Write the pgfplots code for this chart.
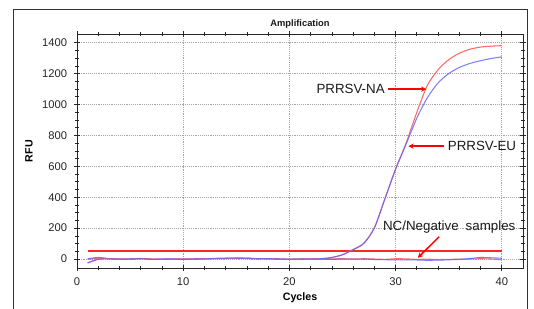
\documentclass[border=0pt]{standalone}
\usepackage{fontspec}
\setmainfont{Liberation Sans}
\usepackage{pgfplots}
\usepackage{pgfplotstable}
\pgfplotsset{compat=1.18}
\usetikzlibrary{arrows.meta}

\definecolor{nared}{RGB}{255,105,105}
\definecolor{eublue}{RGB}{95,95,255}
\definecolor{thr}{RGB}{255,40,40}

\pgfplotstableread{
x na eu
1 -25 -25
2 0 -2
3 2 1
4 0 -1
5 -1 0
6 3 2
7 0 -2
8 -1 0
9 0 0
10 -1 -2
11 0 0
12 2 1
13 3 3
14 4 5
15 5 6
16 4 4
17 2 2
18 3 2
19 0 0
20 -2 -2
21 0 0
22 0 0
23 2 2
24 10 10
25 28 28
26 62 60
27 102 100
28 202 200
29 392 390
30 583 580
31 752 745
32 950 912
33 1125 1045
34 1225 1140
35 1290 1200
36 1332 1240
37 1358 1266
38 1372 1284
39 1378 1298
40 1381 1309
}\postab

\pgfplotstableread{
x r b
1 -3 2
2 6 10
3 2 3
4 0 -1
5 1 0
6 4 3
7 0 -2
8 -2 -1
9 0 0
10 1 -1
11 0 0
12 2 1
13 3 4
14 5 3
15 6 5
16 4 6
17 3 2
18 2 3
19 0 0
20 -1 -1
21 0 0
22 1 -1
23 0 0
24 1 -2
25 2 0
26 0 -1
27 2 0
28 0 -3
29 -2 -4
30 2 -6
31 1 -5
32 -2 -6
33 -1 -8
34 -3 -7
35 -2 -5
36 -1 -2
37 0 3
38 2 10
39 0 8
40 -5 5
}\negtab

\begin{document}
\begin{tikzpicture}
\useasboundingbox (-57.75pt,-30.75pt) rectangle (342.75pt,201pt);
\draw[black!80, line width=0.7pt] (-48pt,-32pt) -- (-48pt,194.25pt) -- (337.5pt,194.25pt) -- (337.5pt,-32pt);
\begin{axis}[
  at={(0,0)}, anchor=south west, scale only axis,
  width=334.5pt, height=175.3pt,
  xmin=0, xmax=42, ymin=-58, ymax=1455,
  clip=false,
  xtick={0,10,...,40}, ytick={0,200,...,1400},
  minor x tick num=4, minor y tick num=3,
  tick align=center, major tick length=4.5pt, minor tick length=3pt,
  tick style={black!85, line width=0.5pt},
  grid=major, major grid style={densely dotted, gray!70, line width=0.5pt},
  axis line style={black!85, line width=0.6pt},
  /pgf/number format/assume math mode=true,
  scaled y ticks=false,
  yticklabel style={/pgf/number format/1000 sep={}},
  ticklabel style={font=\fontsize{8.4}{10}\selectfont, text=black!85},
  xticklabel style={anchor=north, inner sep=0pt},
  yticklabel style={anchor=east, inner sep=0pt},
  xticklabel shift=5pt, yticklabel shift=5pt,
  xlabel={Cycles},
  xlabel style={font=\fontsize{8}{9}\selectfont\bfseries, at={([yshift=-22.5pt]axis description cs:0.5,0)}, anchor=center},
  ylabel={RFU},
  ylabel style={font=\fontsize{8}{9}\selectfont\bfseries, at={([xshift=-36pt]axis description cs:0,0.5)}, anchor=center, rotate=0},
]
\addplot[thr, line width=1.3pt] coordinates {(1,50) (40,50)};
\addplot[nared, line width=0.8pt, smooth, tension=0.35] table[x=x, y=r] {\negtab};
\addplot[eublue, line width=0.8pt, opacity=0.85, smooth, tension=0.35] table[x=x, y=b] {\negtab};
\addplot[nared, line width=0.8pt, smooth, tension=0.45] table[x=x, y=na] {\postab};
\addplot[eublue, line width=0.8pt, opacity=0.8, smooth, tension=0.45] table[x=x, y=eu] {\postab};

\node[font=\fontsize{7}{8}\selectfont\bfseries, text=black!90] at ([yshift=7.8pt]rel axis cs:0.5,1) {Amplification};
\node[anchor=east, inner sep=0pt, font=\fontsize{10}{12}\selectfont, text=black!90] at (axis cs:29.0,1100) {PRRSV-NA};
\draw[red, line width=1.1pt, -{Stealth[length=4pt,width=4pt]}] (axis cs:29.3,1100) -- (axis cs:32.9,1100);
\node[anchor=west, inner sep=0pt, font=\fontsize{10}{12}\selectfont, text=black!90] at (axis cs:34.9,731) {PRRSV-EU};
\draw[red, line width=1.1pt, -{Stealth[length=4pt,width=4pt]}] (axis cs:34.6,731) -- (axis cs:31.2,731);
\node[anchor=west, inner sep=0pt, font=\fontsize{10}{12}\selectfont, text=black!90] at (axis cs:28.8,205) {NC/Negative\hspace{0.25em} samples};
\draw[red, line width=1.1pt, -{Stealth[length=4pt,width=4pt]}] (axis cs:34.1,144) -- (axis cs:32.1,8);
\end{axis}
\end{tikzpicture}
\end{document}
